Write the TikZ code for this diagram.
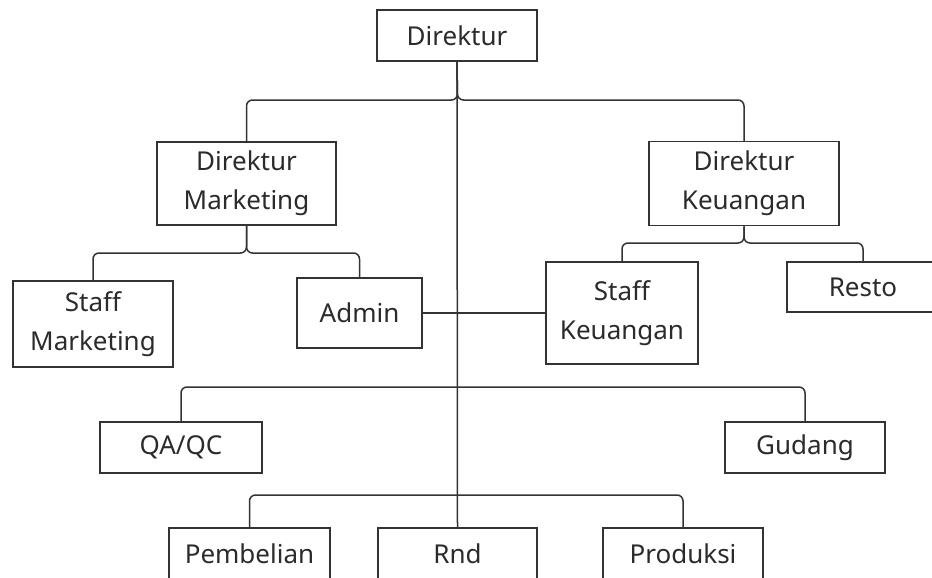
\documentclass[tikz,border=0pt]{standalone}
\usepackage{fontspec}
\setmainfont{Noto Sans}
\definecolor{ink}{HTML}{2B2B2B}
\definecolor{edge}{HTML}{333333}
\begin{document}
\begin{tikzpicture}[x=1pt,y=-1pt,
  box/.style={draw=edge,line width=1.5pt,fill=white,text=ink,inner sep=0pt,
    font=\fontsize{26}{39}\selectfont,align=center},
  link/.style={draw=edge,line width=1.5pt,rounded corners=6pt}]
\useasboundingbox (0,0) rectangle (932,578);
\clip (0,0) rectangle (932,578);
% nodes
\node[box,minimum width=160pt,minimum height=51pt] (dir) at (457,35.5) {Direktur};
\node[box,minimum width=179pt,minimum height=83pt] (dm) at (246.5,183.5) {Direktur\\Marketing};
\node[box,minimum width=190pt,minimum height=84pt] (dk) at (744,183.5) {Direktur\\Keuangan};
\node[box,minimum width=160pt,minimum height=86pt] (sm) at (93,324) {Staff\\Marketing};
\node[box,minimum width=125pt,minimum height=70pt] (adm) at (359.5,313) {Admin};
\node[box,minimum width=152pt,minimum height=102pt] (sk) at (622,313) {Staff\\Keuangan};
\node[box,minimum width=152pt,minimum height=50pt] (resto) at (863,287) {Resto};
\node[box,minimum width=162pt,minimum height=51pt] (qa) at (181,447.5) {QA/QC};
\node[box,minimum width=160pt,minimum height=51pt] (gud) at (805,447.5) {Gudang};
\node[box,minimum width=161pt,minimum height=51pt] (pem) at (249.5,553.5) {Pembelian};
\node[box,minimum width=159pt,minimum height=51pt] (rnd) at (457.5,553.5) {Rnd};
\node[box,minimum width=160pt,minimum height=51pt] (pro) at (683,553.5) {Produksi};
% junction coordinates
\coordinate (j0) at (457.5,100);
\coordinate (j1) at (246.5,253);
\coordinate (j2) at (744,243);
\coordinate (j3) at (457.5,387);
\coordinate (j4) at (457.5,495);
% connectors
\draw[link] (dir.south) -- (j0) -| (dm.north);
\draw[link] (dir.south) -- (j0) -| (dk.north);
\draw[link] (dm.south) -- (j1) -| (sm.north);
\draw[link] (dm.south) -- (j1) -| (adm.north);
\draw[link] (dk.south) -- (j2) -| (sk.north);
\draw[link] (dk.south) -- (j2) -| (resto.north);
\draw[draw=edge,line width=1.5pt] (dir.south) -- (rnd.north);
\draw[link] (j3) -| (qa.north);
\draw[link] (j3) -| (gud.north);
\draw[link] (j4) -| (pem.north);
\draw[link] (j4) -| (pro.north);
\draw[draw=edge,line width=1.5pt] (adm.east) -- (sk.west);
\end{tikzpicture}
\end{document}
